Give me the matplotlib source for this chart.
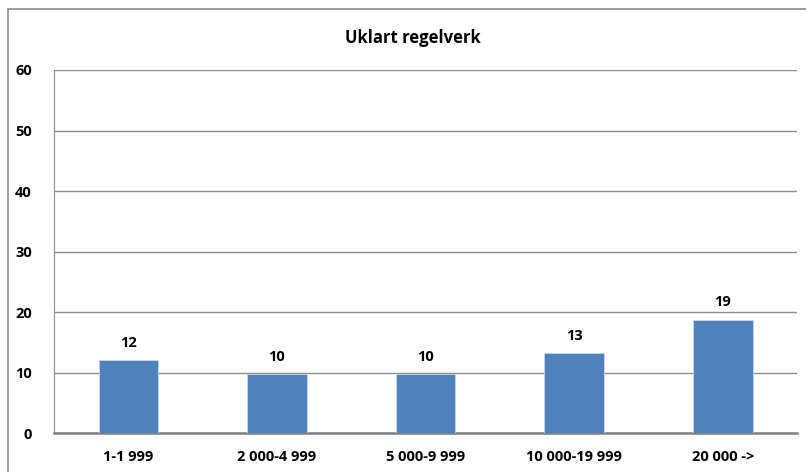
import matplotlib.pyplot as plt
import matplotlib.patches as patches

categories = ['1-1 999', '2 000-4 999', '5 000-9 999', '10 000-19 999', '20 000 ->']
values = [12.0, 9.7, 9.7, 13.2, 18.7]
labels = ['12', '10', '10', '13', '19']

plt.rcParams['font.family'] = ['Open Sans', 'DejaVu Sans']

fig = plt.figure(figsize=(8.06, 4.72), dpi=100)
ax = fig.add_axes([0.067, 0.0826, 0.922, 0.7691])

# outer chart frame
fig.patches.append(patches.Rectangle((8 / 806, -0.1), 1.2, 1 - 9 / 472 + 0.1,
                                     transform=fig.transFigure, fill=False,
                                     edgecolor='#8c8c8c', linewidth=1.2))

x = range(len(categories))
ax.bar(x, values, width=0.4, color='#4f81bd', edgecolor='#c9d7ea', linewidth=0.6, zorder=3)
for i, (v, lab) in enumerate(zip(values, labels)):
    ax.text(i, v + 2.9, lab, ha='center', va='center', fontsize=10.5, fontweight='bold')

ax.set_ylim(0, 60)
ax.set_xlim(-0.5, len(categories) - 0.5)
ax.set_yticks(range(0, 61, 10))
ax.set_xticks(list(x))
ax.set_xticklabels(categories, fontsize=10.5, fontweight='bold')
for t in ax.get_yticklabels():
    t.set_fontsize(10.5)
    t.set_fontweight('bold')
ax.tick_params(axis='x', length=0, pad=12)
ax.tick_params(axis='y', length=0, pad=16)
ax.grid(axis='y', color='#8c8c8c', linewidth=1.0, zorder=0)
ax.spines['top'].set_visible(False)
ax.spines['right'].set_visible(False)
ax.spines['left'].set_color('#8c8c8c')
ax.spines['bottom'].set_color('#808080')
ax.spines['bottom'].set_linewidth(1.8)

fig.text(413 / 806, 1 - 38 / 472, 'Uklart regelverk', ha='center', va='center',
         fontsize=12, fontweight='bold')

fig.savefig('out.png', dpi=100)
